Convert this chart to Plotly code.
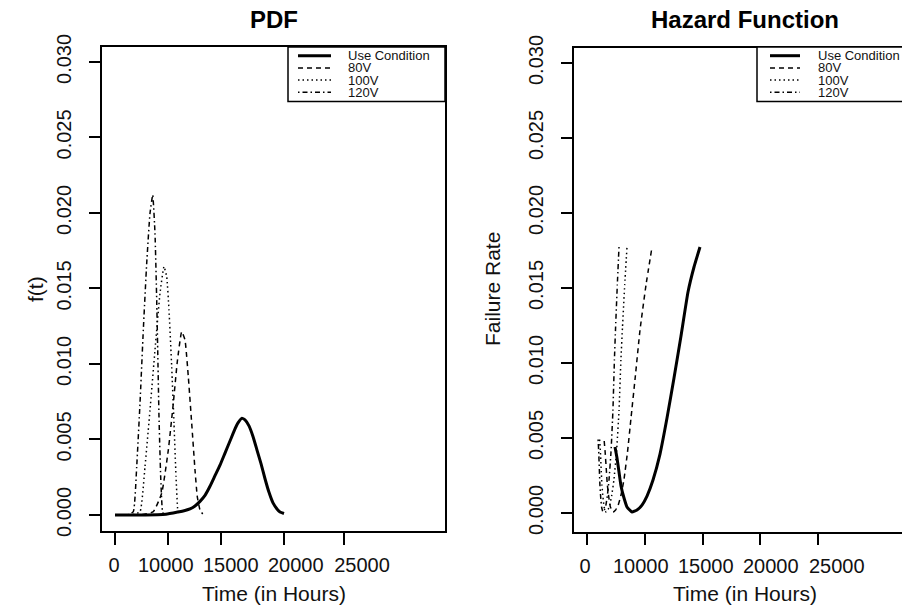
import plotly.graph_objects as go

# ---------------- data ----------------
series_names = ["Use Condition", "80V", "100V", "120V"]

# x axis: tick marks and the printed labels sit at slightly different places
x_tick_labels = ["0", "10000", "15000", "20000", "25000"]
pdf_x_tick_vals = [0, 6290, 12470, 19980, 27060]
pdf_x_label_vals = [-118, 5983, 13653, 21323, 29146]
haz_x_tick_vals = [0, 6667, 13333, 20000, 26667]
haz_x_label_vals = [-266, 6181, 13704, 21227, 28866]
y_tick_vals = [0.000, 0.005, 0.010, 0.015, 0.020, 0.025, 0.030]
y_tick_labels = ["0.000", "0.005", "0.010", "0.015", "0.020", "0.025", "0.030"]

# PDF panel
pdf_use_t = [0, 3000, 6000, 7434, 8260, 8850, 9440, 10030, 10620, 11210, 11800, 12390,
             12980, 13570, 14160, 14514, 14951, 15340, 15812, 16284, 16756, 17228,
             17700, 18172, 18644, 19116, 19470, 19942]
pdf_use_f = [0.0, 0.0, 0.00005, 0.0002, 0.0003, 0.0004, 0.0006, 0.0009, 0.0013, 0.0019,
             0.0026, 0.0033, 0.0041, 0.0049, 0.0057, 0.0061, 0.0064, 0.0063, 0.0059,
             0.0052, 0.0043, 0.0034, 0.0024, 0.0015, 0.0008, 0.0004, 0.0002, 0.0001]

pdf_80_t = [0, 3000, 4520, 5510, 6290, 6880, 7350, 7870, 8260, 8650, 9050, 9440,
            9710, 10030, 10350]
pdf_80_f = [0.0, 0.0, 0.00022, 0.00144, 0.0043, 0.0074, 0.01015, 0.01214, 0.01159,
            0.00916, 0.00607, 0.00298, 0.00121, 0.00033, 0.00007]

pdf_100_t = [0, 2000, 2950, 3540, 4130, 4720, 5310, 5780, 6100, 6370, 6690, 6960,
             7200, 7400, 7470]
pdf_100_f = [0.0, 0.0, 0.00022, 0.0032, 0.00695, 0.01093, 0.01468, 0.01645, 0.01578,
             0.01358, 0.00982, 0.00607, 0.00253, 0.00033, 0.00011]

pdf_120_t = [0, 1500, 2160, 2560, 2950, 3340, 3740, 4130, 4450, 4720, 4920, 5040,
             5190, 5390, 5580, 5700]
pdf_120_f = [0.0, 0.0, 0.00022, 0.0032, 0.0074, 0.01225, 0.01667, 0.01998, 0.02119,
             0.01865, 0.01424, 0.01093, 0.00651, 0.00254, 0.00033, 0.00007]

# Hazard panel
haz_use_t = [3206, 3437, 3669, 3900, 4248, 4595, 5174, 5752, 6331, 6910, 7604, 8414,
             9224, 10034, 10845, 11655, 12350, 13044]
haz_use_h = [0.0044, 0.00367, 0.00273, 0.0018, 0.001, 0.0004, 0.00007, 0.0002,
             0.00053, 0.00113, 0.0022, 0.00393, 0.00633, 0.009, 0.0118, 0.01473,
             0.0164, 0.01773]

haz_80_t = [1956, 2072, 2199, 2315, 2488, 2674, 2975, 3275, 3576, 3877, 4236, 4653,
            5058, 5521, 6100, 6794, 7489]
haz_80_h = [0.0048, 0.0040, 0.0029, 0.0019, 0.00105, 0.0004, 0.00007, 0.0002, 0.00053,
            0.00113, 0.0022, 0.00407, 0.00633, 0.0089, 0.0122, 0.0152, 0.01773]

haz_100_t = [1424, 1516, 1597, 1690, 1817, 1944, 2164, 2384, 2593, 2812, 3079, 3380,
             3669, 3889, 4074, 4329, 4595]
haz_100_h = [0.0049, 0.0041, 0.0030, 0.0019, 0.00105, 0.0004, 0.00007, 0.0002, 0.00053,
             0.00113, 0.0022, 0.00407, 0.0068, 0.0102, 0.0124, 0.0152, 0.01773]

haz_120_t = [1250, 1319, 1389, 1458, 1551, 1655, 1817, 1979, 2153, 2315, 2512, 2743,
             2963, 3137, 3275, 3472, 3669]
haz_120_h = [0.0049, 0.0041, 0.0030, 0.0019, 0.00105, 0.0004, 0.00007, 0.0002, 0.00053,
             0.00113, 0.0022, 0.00407, 0.0068, 0.0102, 0.0124, 0.0152, 0.01773]

# ---------------- styling ----------------
W, H = 902, 608
FONT = "Liberation Sans, Arial, Helvetica, sans-serif"
INK = "#111111"
styles = [dict(width=3, dash="solid"),
          dict(width=1.5, dash="5px,4px"),
          dict(width=1.5, dash="1.5px,3px"),
          dict(width=1.5, dash="1.5px,3px,5px,3px")]


def px(x):
    return x / W


def py(y):
    return 1 - y / H


fig = go.Figure()

pdf_series = [(pdf_use_t, pdf_use_f), (pdf_80_t, pdf_80_f),
              (pdf_100_t, pdf_100_f), (pdf_120_t, pdf_120_f)]
haz_series = [(haz_use_t, haz_use_h), (haz_80_t, haz_80_h),
              (haz_100_t, haz_100_h), (haz_120_t, haz_120_h)]

for (t, f), name, st in zip(pdf_series, series_names, styles):
    fig.add_trace(go.Scatter(x=t, y=f, mode="lines", name=name, showlegend=False,
                             hoverinfo="skip",
                             line=dict(color="black", shape="spline", smoothing=0.4, **st),
                             xaxis="x", yaxis="y"))
for (t, h), name, st in zip(haz_series, series_names, styles):
    fig.add_trace(go.Scatter(x=t, y=h, mode="lines", name=name, showlegend=False,
                             hoverinfo="skip",
                             line=dict(color="black", shape="spline", smoothing=0.4, **st),
                             xaxis="x2", yaxis="y2"))

# carrier traces so the label-only axes are drawn
fig.add_trace(go.Scatter(x=pdf_x_label_vals, y=[None] * 5, mode="lines",
                         showlegend=False, hoverinfo="skip", xaxis="x3", yaxis="y"))
fig.add_trace(go.Scatter(x=haz_x_label_vals, y=[None] * 5, mode="lines",
                         showlegend=False, hoverinfo="skip", xaxis="x4", yaxis="y2"))

line_axis = dict(showgrid=False, zeroline=False, showline=True, linecolor="black",
                 linewidth=1.5, ticks="outside", ticklen=12, tickwidth=1.5,
                 tickcolor="black", automargin=False,
                 tickfont=dict(family=FONT, size=20, color=INK))
label_axis = dict(showgrid=False, zeroline=False, showline=False, ticks="",
                  automargin=False, side="bottom", tickangle=0, tickmode="array",
                  ticktext=x_tick_labels, ticklabelstandoff=20,
                  tickfont=dict(family=FONT, size=20, color=INK))

PDF_XR = [-1499, 38940]
HAZ_XR = [-1505, 36423]

fig.update_layout(
    width=W, height=H, margin=dict(l=0, r=0, t=0, b=0, pad=0),
    paper_bgcolor="white", plot_bgcolor="white", showlegend=False,
    xaxis=dict(domain=[px(102.3), px(445)], range=PDF_XR, tickmode="array",
               tickvals=pdf_x_tick_vals, showticklabels=False, mirror=True,
               anchor="y", **line_axis),
    yaxis=dict(domain=[py(531), py(47)], range=[-0.00106, 0.03099], tickmode="array",
               tickvals=y_tick_vals, ticktext=y_tick_labels, tickangle=-90, mirror=True,
               anchor="x", ticklabelstandoff=10, **line_axis),
    xaxis2=dict(domain=[px(574.3), 1.0], range=HAZ_XR, tickmode="array",
                tickvals=haz_x_tick_vals, showticklabels=False, mirror=True,
                anchor="y2", **line_axis),
    yaxis2=dict(domain=[py(531.7), py(47.5)], range=[-0.001247, 0.031033],
                tickmode="array", tickvals=y_tick_vals, ticktext=y_tick_labels,
                tickangle=-90, mirror=False, anchor="x2", ticklabelstandoff=10,
                **line_axis),
    xaxis3=dict(overlaying="x", anchor="y", range=PDF_XR, tickvals=pdf_x_label_vals,
                **label_axis),
    xaxis4=dict(overlaying="x2", anchor="y2", range=HAZ_XR, tickvals=haz_x_label_vals,
                **label_axis),
)

ann = []
shapes = []
# titles
for text, xc in (("<b>PDF</b>", 273.5), ("<b>Hazard Function</b>", 745)):
    ann.append(dict(text=text, x=px(xc), y=py(19.5), xref="paper", yref="paper",
                    xanchor="center", yanchor="middle", showarrow=False,
                    font=dict(family=FONT, size=24, color="black")))
# axis titles
for xc in (273.5, 744.5):
    ann.append(dict(text="Time (in Hours)", x=px(xc), y=py(593.5), xref="paper",
                    yref="paper", xanchor="center", yanchor="middle", showarrow=False,
                    font=dict(family=FONT, size=21, color=INK)))
ann.append(dict(text="f(t)", x=px(35), y=py(289), xref="paper", yref="paper",
                xanchor="center", yanchor="middle", showarrow=False, textangle=-90,
                font=dict(family=FONT, size=21, color=INK)))
ann.append(dict(text="Failure Rate", x=px(492), y=py(289), xref="paper", yref="paper",
                xanchor="center", yanchor="middle", showarrow=False, textangle=-90,
                font=dict(family=FONT, size=21, color=INK)))

# legends (drawn as boxes with line samples and labels)
row_y = [55.7, 67.9, 80.1, 92.3]
for (bx0, bx1, sx0, sx1, tx) in [(288, 445, 298, 331, 345.7),
                                 (757, 930, 770, 800, 815.7)]:
    shapes.append(dict(type="rect", xref="paper", yref="paper", x0=px(bx0), x1=px(bx1),
                       y0=py(101.5), y1=py(47), line=dict(color="black", width=1.5),
                       fillcolor="white", layer="above"))
    for ry, name, st in zip(row_y, series_names, styles):
        shapes.append(dict(type="line", xref="paper", yref="paper", x0=px(sx0),
                           x1=px(sx1), y0=py(ry), y1=py(ry),
                           line=dict(color="black", width=st["width"], dash=st["dash"]),
                           layer="above"))
        ann.append(dict(text=name, x=px(tx), y=py(ry), xref="paper", yref="paper",
                        xanchor="left", yanchor="middle", showarrow=False,
                        font=dict(family=FONT, size=13, color=INK)))

fig.update_layout(annotations=ann, shapes=shapes)
fig.write_html("out.html", config={"displayModeBar": False},
               post_script="document.body.style.margin='0px';"
                           "document.body.style.overflow='hidden';")
